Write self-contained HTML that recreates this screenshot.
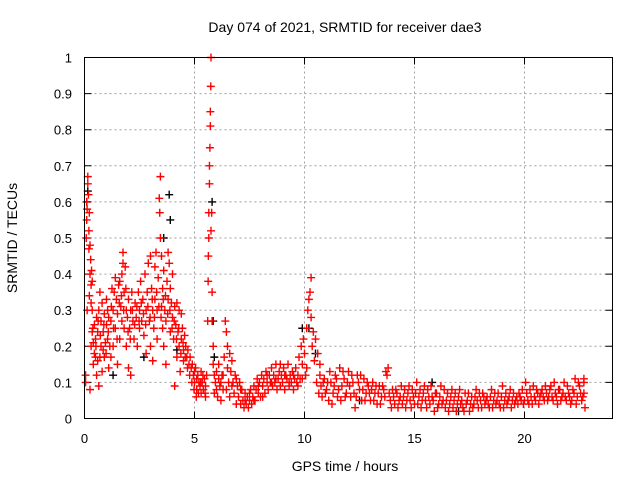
<!DOCTYPE html>
<html><head><meta charset="utf-8"><style>
body{margin:0;background:#fff;}
svg{display:block;font-family:"Liberation Sans",sans-serif;}
</style></head><body>
<svg id="chart" width="640" height="480" viewBox="0 0 640 480" xmlns="http://www.w3.org/2000/svg">
<rect width="640" height="480" fill="#fff"/>
<g id="grid"></g>
<g id="axes"></g>
<g id="marks"></g>
<rect x="84.5" y="57.5" width="528" height="361" fill="none" stroke="#000" stroke-width="1"/>
<text x="345" y="32" font-size="14" text-anchor="middle">Day 074 of 2021, SRMTID for receiver dae3</text>
<text x="345" y="471" font-size="14" text-anchor="middle">GPS time / hours</text>
<text transform="translate(17,238) rotate(-90)" font-size="14" text-anchor="middle">SRMTID / TECUs</text>
</svg>
<script>
const xTicks = [0,5,10,15,20];
const yTicks = [0,0.1,0.2,0.3,0.4,0.5,0.6,0.7,0.8,0.9,1];
const yTickLabels = ["0","0.1","0.2","0.3","0.4","0.5","0.6","0.7","0.8","0.9","1"];
const redPoints = [[0.05,0.12],[0.05,0.1],[0.08,0.5],[0.1,0.6],[0.1,0.55],[0.12,0.58],[0.15,0.67],[0.15,0.65],[0.18,0.62],[0.2,0.47],[0.2,0.52],[0.22,0.57],[0.25,0.48],[0.25,0.4],[0.28,0.44],[0.3,0.37],[0.3,0.32],[0.32,0.41],[0.35,0.38],[0.35,0.3],[0.38,0.25],[0.4,0.21],[0.4,0.15],[0.25,0.08],[0.3,0.2],[0.45,0.18],[0.45,0.26],[0.5,0.17],[0.5,0.22],[0.55,0.28],[0.55,0.12],[0.6,0.16],[0.6,0.24],[0.65,0.3],[0.65,0.09],[0.7,0.17],[0.7,0.35],[0.75,0.27],[0.75,0.2],[0.8,0.32],[0.8,0.13],[0.85,0.24],[0.85,0.19],[0.9,0.29],[0.9,0.17],[0.95,0.21],[1.0,0.33],[1.0,0.26],[1.05,0.3],[1.05,0.22],[1.1,0.28],[1.1,0.14],[1.15,0.2],[1.2,0.27],[1.2,0.17],[1.25,0.36],[1.3,0.3],[1.3,0.2],[1.35,0.35],[1.4,0.39],[1.4,0.25],[1.45,0.33],[1.5,0.29],[1.5,0.15],[1.55,0.37],[1.6,0.38],[1.6,0.22],[1.65,0.31],[1.7,0.4],[1.7,0.27],[1.75,0.46],[1.75,0.43],[1.8,0.35],[1.8,0.25],[1.85,0.42],[1.9,0.3],[1.9,0.2],[1.95,0.28],[2.0,0.33],[2.0,0.14],[2.05,0.25],[2.1,0.3],[2.1,0.12],[2.15,0.35],[2.2,0.27],[2.25,0.22],[2.3,0.32],[2.35,0.28],[2.4,0.2],[2.45,0.35],[2.5,0.3],[2.5,0.25],[2.55,0.38],[2.6,0.27],[2.65,0.33],[2.7,0.23],[2.75,0.4],[2.8,0.3],[2.8,0.18],[2.85,0.35],[2.9,0.43],[2.95,0.27],[3.0,0.45],[3.0,0.2],[3.05,0.36],[3.1,0.3],[3.1,0.16],[3.15,0.25],[3.2,0.42],[3.2,0.33],[3.25,0.46],[3.3,0.3],[3.3,0.22],[3.35,0.39],[3.4,0.61],[3.42,0.57],[3.45,0.67],[3.45,0.5],[3.5,0.45],[3.5,0.31],[3.55,0.36],[3.55,0.25],[3.6,0.41],[3.6,0.2],[3.65,0.3],[3.7,0.27],[3.7,0.15],[3.75,0.38],[3.8,0.46],[3.8,0.33],[3.85,0.43],[3.9,0.36],[3.9,0.24],[3.95,0.32],[4.0,0.4],[4.0,0.28],[4.05,0.22],[4.1,0.31],[4.1,0.09],[4.15,0.26],[4.2,0.32],[4.2,0.17],[4.25,0.24],[4.3,0.3],[4.3,0.2],[4.35,0.13],[4.4,0.22],[4.4,0.29],[4.45,0.25],[4.5,0.19],[4.5,0.16],[4.55,0.23],[4.6,0.2],[4.65,0.17],[4.7,0.19],[4.75,0.15],[4.8,0.17],[4.85,0.14],[4.9,0.15],[4.95,0.12],[5.0,0.13],[5.0,0.1],[5.05,0.14],[5.1,0.11],[5.1,0.08],[5.15,0.12],[5.2,0.1],[5.25,0.09],[5.3,0.13],[5.3,0.07],[5.35,0.1],[5.4,0.08],[5.45,0.11],[5.5,0.06],[5.5,0.09],[5.55,0.12],[5.6,0.27],[5.62,0.38],[5.63,0.45],[5.65,0.5],[5.65,0.57],[5.68,0.65],[5.68,0.7],[5.7,0.75],[5.72,0.81],[5.72,0.85],[5.74,0.92],[5.75,1.0],[5.75,0.52],[5.78,0.57],[5.8,0.35],[5.8,0.27],[5.85,0.2],[5.85,0.15],[5.9,0.12],[5.9,0.07],[5.95,0.1],[6.0,0.08],[6.0,0.13],[6.05,0.06],[6.1,0.11],[6.15,0.09],[6.2,0.05],[6.25,0.12],[6.3,0.08],[6.35,0.17],[6.4,0.27],[6.45,0.24],[6.5,0.2],[6.5,0.14],[6.55,0.1],[6.6,0.06],[6.6,0.18],[6.65,0.13],[6.7,0.16],[6.75,0.1],[6.8,0.07],[6.85,0.12],[6.9,0.04],[6.95,0.09],[7.0,0.06],[7.05,0.1],[7.1,0.04],[7.15,0.08],[7.2,0.05],[7.25,0.03],[7.3,0.07],[7.35,0.04],[7.4,0.06],[7.45,0.03],[7.5,0.05],[7.55,0.08],[7.6,0.04],[7.65,0.06],[7.7,0.09],[7.75,0.05],[7.8,0.08],[7.85,0.11],[7.9,0.07],[7.95,0.1],[8.0,0.06],[8.05,0.12],[8.1,0.09],[8.15,0.11],[8.2,0.07],[8.25,0.13],[8.3,0.1],[8.35,0.08],[8.4,0.12],[8.45,0.1],[8.5,0.14],[8.55,0.09],[8.6,0.12],[8.65,0.1],[8.7,0.15],[8.75,0.08],[8.8,0.11],[8.85,0.13],[8.9,0.09],[8.95,0.12],[9.0,0.1],[9.05,0.14],[9.1,0.08],[9.15,0.12],[9.2,0.11],[9.25,0.15],[9.3,0.09],[9.35,0.12],[9.4,0.1],[9.45,0.13],[9.5,0.08],[9.55,0.11],[9.6,0.14],[9.65,0.1],[9.7,0.12],[9.75,0.17],[9.8,0.11],[9.85,0.2],[9.9,0.15],[9.95,0.22],[10.0,0.18],[10.05,0.12],[10.1,0.25],[10.15,0.3],[10.2,0.33],[10.25,0.35],[10.3,0.39],[10.3,0.28],[10.35,0.2],[10.4,0.24],[10.45,0.16],[10.5,0.22],[10.55,0.1],[10.6,0.18],[10.65,0.07],[10.7,0.12],[10.75,0.09],[10.8,0.06],[10.9,0.11],[11.0,0.08],[11.1,0.05],[11.2,0.1],[11.3,0.07],[11.4,0.12],[11.5,0.06],[11.6,0.14],[11.7,0.09],[11.8,0.11],[11.9,0.07],[12.0,0.13],[12.1,0.06],[12.2,0.1],[12.3,0.03],[12.4,0.12],[12.5,0.08],[12.6,0.05],[12.7,0.11],[12.8,0.07],[12.9,0.09],[13.0,0.05],[13.1,0.1],[13.2,0.07],[13.3,0.04],[13.4,0.09],[13.5,0.06],[13.6,0.08],[13.7,0.13],[13.8,0.14],[13.9,0.05],[14.0,0.08],[14.1,0.04],[14.2,0.07],[14.3,0.05],[14.4,0.09],[14.5,0.06],[14.6,0.03],[14.7,0.07],[14.8,0.05],[14.9,0.08],[15.0,0.04],[15.1,0.1],[15.2,0.06],[15.3,0.03],[15.4,0.07],[15.5,0.05],[15.6,0.08],[15.7,0.04],[15.8,0.06],[15.9,0.02],[16.0,0.07],[16.1,0.04],[16.2,0.09],[16.3,0.05],[16.4,0.03],[16.5,0.07],[16.6,0.04],[16.7,0.08],[16.8,0.05],[16.9,0.02],[17.0,0.06],[17.1,0.04],[17.2,0.03],[17.3,0.07],[17.4,0.05],[17.5,0.02],[17.6,0.06],[17.7,0.04],[17.8,0.08],[17.9,0.03],[18.0,0.05],[18.1,0.07],[18.2,0.04],[18.3,0.06],[18.4,0.03],[18.5,0.08],[18.6,0.05],[18.7,0.04],[18.8,0.07],[18.9,0.03],[19.0,0.09],[19.1,0.05],[19.2,0.04],[19.3,0.06],[19.4,0.03],[19.5,0.07],[19.6,0.05],[19.7,0.04],[19.8,0.06],[19.9,0.08],[20.0,0.05],[20.1,0.07],[20.2,0.04],[20.3,0.06],[20.4,0.09],[20.5,0.05],[20.6,0.07],[20.7,0.06],[20.8,0.08],[20.9,0.05],[21.0,0.07],[21.1,0.06],[21.2,0.09],[21.3,0.05],[21.4,0.07],[21.5,0.04],[21.6,0.08],[21.7,0.06],[21.8,0.1],[21.9,0.05],[22.0,0.07],[22.1,0.04],[22.2,0.08],[22.3,0.11],[22.4,0.06],[22.5,0.09],[22.6,0.05],[22.7,0.1],[22.75,0.03]];
const redExtraPoints = [[6.1,0.15],[6.2,0.1],[6.3,0.12],[6.45,0.08],[6.7,0.09],[6.9,0.11],[7.1,0.08],[7.3,0.05],[7.5,0.07],[7.7,0.05],[7.9,0.09],[8.1,0.06],[8.3,0.12],[8.5,0.1],[8.7,0.11],[8.9,0.15],[9.1,0.12],[9.3,0.1],[9.5,0.12],[9.7,0.09],[9.9,0.11],[10.1,0.14],[10.7,0.15],[10.85,0.1],[10.95,0.07],[11.05,0.1],[11.15,0.13],[11.25,0.04],[11.35,0.09],[11.45,0.11],[11.55,0.08],[11.65,0.05],[11.75,0.13],[11.85,0.06],[11.95,0.1],[12.05,0.09],[12.15,0.12],[12.25,0.07],[12.35,0.06],[12.45,0.1],[12.55,0.12],[12.65,0.08],[12.75,0.05],[12.85,0.1],[12.95,0.07],[13.05,0.08],[13.15,0.05],[13.25,0.09],[13.35,0.07],[13.45,0.04],[13.55,0.09],[13.65,0.06],[13.75,0.12],[13.85,0.07],[13.95,0.03],[14.05,0.06],[14.15,0.08],[14.25,0.03],[14.35,0.06],[14.45,0.04],[14.55,0.08],[14.65,0.05],[14.75,0.09],[14.85,0.03],[14.95,0.06],[15.05,0.07],[15.15,0.04],[15.25,0.08],[15.35,0.05],[15.45,0.09],[15.55,0.03],[15.65,0.06],[15.75,0.09],[15.85,0.05],[15.95,0.07],[16.05,0.03],[16.15,0.06],[16.25,0.04],[16.35,0.08],[16.45,0.05],[16.55,0.02],[16.65,0.06],[16.75,0.03],[16.85,0.07],[16.95,0.04],[17.05,0.08],[17.15,0.05],[17.25,0.02],[17.35,0.04],[17.45,0.07],[17.55,0.04],[17.65,0.03],[17.75,0.06],[17.85,0.05],[17.95,0.07],[18.05,0.03],[18.15,0.06],[18.25,0.05],[18.35,0.04],[18.45,0.06],[18.55,0.03],[18.65,0.07],[18.75,0.05],[18.85,0.04],[18.95,0.06],[19.05,0.03],[19.15,0.07],[19.25,0.05],[19.35,0.08],[19.45,0.05],[19.55,0.04],[19.65,0.06],[19.75,0.07],[19.85,0.05],[19.95,0.04],[20.05,0.1],[20.15,0.05],[20.25,0.08],[20.35,0.04],[20.45,0.06],[20.55,0.08],[20.65,0.04],[20.75,0.07],[20.85,0.06],[20.95,0.09],[21.05,0.05],[21.15,0.08],[21.25,0.06],[21.35,0.1],[21.45,0.06],[21.55,0.08],[21.65,0.05],[21.75,0.07],[21.85,0.06],[21.95,0.09],[22.05,0.06],[22.15,0.05],[22.25,0.07],[22.35,0.04],[22.45,0.1],[22.55,0.07],[22.65,0.06],[22.7,0.11],[22.7,0.07]];
const redEarlyPoints = [[0.12,0.3],[0.22,0.34],[0.35,0.24],[0.52,0.2],[0.62,0.27],[0.72,0.23],[0.88,0.26],[0.98,0.18],[1.08,0.24],[1.22,0.31],[1.32,0.25],[1.48,0.22],[1.58,0.32],[1.68,0.34],[1.78,0.3],[1.88,0.36],[1.98,0.24],[2.08,0.22],[2.18,0.3],[2.28,0.26],[2.38,0.31],[2.48,0.27],[2.58,0.32],[2.68,0.29],[2.78,0.26],[2.88,0.31],[2.98,0.28],[3.08,0.33],[3.18,0.28],[3.28,0.35],[3.38,0.31],[3.48,0.28],[3.58,0.33],[3.68,0.34],[3.78,0.29],[3.88,0.3],[3.98,0.25],[4.08,0.27],[4.18,0.22],[4.28,0.25],[4.38,0.18],[4.48,0.21],[4.58,0.17],[4.68,0.14],[4.78,0.12],[4.88,0.1],[4.98,0.08],[5.08,0.06],[5.18,0.07],[5.28,0.1],[5.38,0.12],[5.48,0.07]];
const blackPoints = [[0.15,0.63],[0.1,0.6],[3.6,0.5],[3.85,0.62],[3.9,0.55],[5.8,0.6],[5.85,0.27],[5.9,0.17],[9.9,0.25],[10.2,0.25],[10.5,0.18],[1.3,0.12],[2.7,0.17],[4.2,0.19],[12.5,0.05],[15.8,0.1],[17,0.02]];

const X0=84.5, X1=612.5, Y0=418.5, Y1=57.5, XMAX=24, YMAX=1;
function xScale(h){return X0+(X1-X0)*h/XMAX;}
function yScale(v){return Y0-(Y0-Y1)*v/YMAX;}
const NS="http://www.w3.org/2000/svg";
const grid=document.getElementById('grid');
const axes=document.getElementById('axes');
const marks=document.getElementById('marks');
function mk(tag,attrs,parent){const e=document.createElementNS(NS,tag);for(const k in attrs)e.setAttribute(k,attrs[k]);parent.appendChild(e);return e;}

yTicks.forEach((t,i)=>{
  const yy=yScale(t);
  if(i>0&&i<yTicks.length-1){
    const g=mk('line',{x1:X0,x2:X1,y1:yy,y2:yy,stroke:'#a0a0a0','stroke-dasharray':'2,3','stroke-width':1},grid);
    
    
  }
  const tk=mk('path',{d:`M${X0},${yy}h7M${X1},${yy}h-7`,stroke:'#000','stroke-width':1},axes);
  
  
  const lb=mk('text',{x:72,y:yy+5,'font-size':13,'text-anchor':'end'},axes);
  lb.textContent=yTickLabels[i];
  
  
});
xTicks.forEach((t,i)=>{
  const xx=xScale(t);
  if(i>0){
    const g=mk('line',{x1:xx,x2:xx,y1:Y0,y2:Y1,stroke:'#a0a0a0','stroke-dasharray':'2,3','stroke-width':1},grid);
    
    
  }
  const tk=mk('path',{d:`M${xx},${Y0}v-7M${xx},${Y1}v7`,stroke:'#000','stroke-width':1},axes);
  
  
  const lb=mk('text',{x:xx,y:443,'font-size':13,'text-anchor':'middle'},axes);
  lb.textContent=String(t);
  
  
});
function plus(p,color,name){
  const x=xScale(p[0]), y=yScale(p[1]);
  const e=mk('path',{d:`M${x-4},${y}h8M${x},${y-4}v8`,stroke:color,'stroke-width':1.4,fill:'none'},marks);
  
  
}
blackPoints.forEach(p=>plus(p,'#000','point-black'));
redPoints.forEach(p=>plus(p,'#ff0000','point-red'));
redExtraPoints.forEach(p=>plus(p,'#ff0000','point-red'));
redEarlyPoints.forEach(p=>plus(p,'#ff0000','point-red'));
</script>
</body></html>
